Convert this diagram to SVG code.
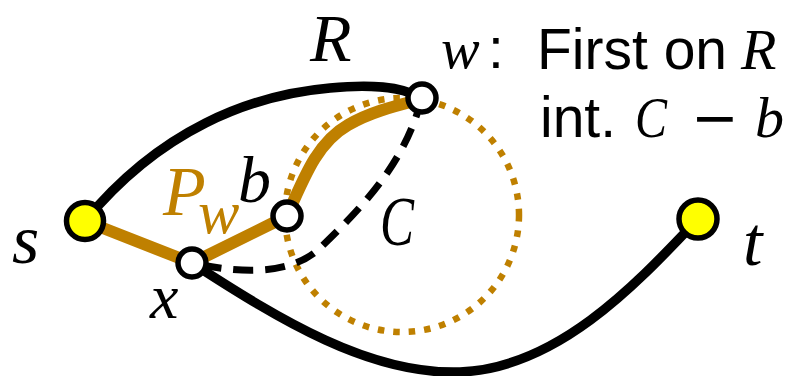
<svg xmlns="http://www.w3.org/2000/svg" width="788" height="376" viewBox="0 0 788 376">
<style>
.blk{fill:none;stroke:#000;stroke-width:9.5;stroke-linecap:round}
.dash{fill:none;stroke:#000;stroke-width:7;stroke-dasharray:20 12}
.gold{fill:none;stroke:#BF8000;stroke-width:12;stroke-linejoin:round}
.dot{fill:none;stroke:#BF8000;stroke-width:6.5;stroke-dasharray:6.5 9}
.term{fill:#FFFF00;stroke:#000;stroke-width:5.5}
.inner{fill:#fff;stroke:#000;stroke-width:5.5}
.m{font-family:"Liberation Serif","DejaVu Serif",serif;font-style:italic;fill:#000}
.t{font-family:"Liberation Sans",Arial,sans-serif;font-size:57px;fill:#000}
</style>
<rect width="788" height="376" fill="#fff"/>
<g id="connectors">
<circle class="dot" cx="402" cy="215" r="117"/>
<path class="blk" d="M85,221 C160,130 250,95 330,88 C370,84 400,86 422,98"/>
<path class="blk" d="M192,263 C280,320 370,375 460,372 C560,368 640,280 698,219"/>
<path class="dash" d="M422,98 C405,160 370,200 320,248 C295,272 250,276 192,263"/>
<path class="gold" d="M85,221 L192,263 L287,216 C305,175 318,142 348,125 C370,112 395,106 422,99"/>
</g>
<g id="node-s"><circle class="term" cx="85" cy="221" r="18.5"/><text class="m" x="12" y="263" font-size="70">s</text></g>
<g id="node-t"><circle class="term" cx="698" cy="219" r="19"/><text class="m" x="743" y="265" font-size="70">t</text></g>
<g id="node-x"><circle class="inner" cx="192" cy="263" r="14"/><text class="m" x="150" y="318" font-size="64">x</text></g>
<g id="node-b"><circle class="inner" cx="287" cy="216" r="14"/><text class="m" x="238" y="202" font-size="66">b</text></g>
<g id="node-w"><circle class="inner" cx="422" cy="98" r="14"/></g>
<g id="labels">
<text class="m" x="310" y="61" font-size="68">R</text>
<text class="m" x="380" y="245" font-size="70" textLength="34" lengthAdjust="spacingAndGlyphs">C</text>
<text class="m" x="163" y="215" font-size="70" style="fill:#BF8000">P</text>
<text class="m" x="198" y="233" font-size="62" style="fill:#BF8000">w</text>
<text class="m" x="441" y="68" font-size="58">w</text>
<text class="t" x="488" y="68">:</text>
<text class="t" x="537" y="69">First on</text>
<text class="m" x="741" y="69" font-size="58">R</text>
<text class="t" x="540" y="137">int.</text>
<text class="m" x="635" y="137" font-size="58" textLength="32" lengthAdjust="spacingAndGlyphs">C</text>
<text x="691" y="137" font-family="DejaVu Sans,sans-serif" font-size="57">−</text>
<text class="m" x="755" y="137" font-size="58">b</text>
</g>
</svg>
